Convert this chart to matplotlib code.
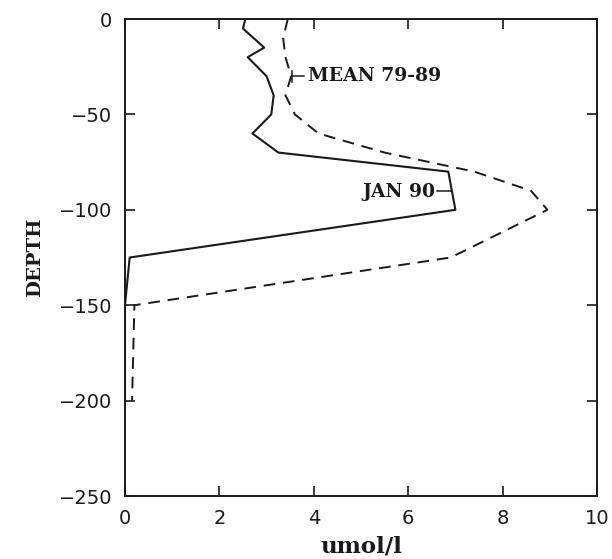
import matplotlib.pyplot as plt

# JAN 90 profile (solid)
jan_depth = [0, -5, -15, -20, -30, -40, -50, -60, -70, -80, -100, -125, -150, -200]
jan_conc = [2.55, 2.5, 2.95, 2.6, 3.0, 3.15, 3.1, 2.7, 3.25, 6.85, 7.0, 0.1, 0.0, 0.0]

# MEAN 79-89 profile (dashed)
mean_depth = [0, -10, -20, -30, -40, -50, -60, -70, -80, -90, -100, -125, -150, -200]
mean_conc = [3.45, 3.35, 3.4, 3.52, 3.4, 3.6, 4.1, 5.5, 7.4, 8.6, 8.95, 6.9, 0.2, 0.15]

xticks = [0, 2, 4, 6, 8, 10]
yticks = [0, -50, -100, -150, -200, -250]

fig = plt.figure(figsize=(6.12, 5.59), dpi=100)
ax = fig.add_axes([0.2042, 0.1127, 0.7713, 0.8533])

ax.plot(jan_conc, jan_depth, color="#1a1a1a", lw=1.5)
ax.plot(mean_conc, mean_depth, color="#1a1a1a", lw=1.4, ls=(0, (6, 4)))

ax.set_xlim(0, 10)
ax.set_ylim(-250, 0)
ax.set_xticks(xticks)
ax.set_yticks(yticks)
ax.set_yticklabels(["\u2212" + str(-t) if t < 0 else "0" for t in yticks])
ax.tick_params(direction="in", length=7, width=1.2, top=True, right=True,
               labelsize=14, pad=9, colors="#1a1a1a")
for s in ax.spines.values():
    s.set_linewidth(1.4)
    s.set_color("#1a1a1a")

serif = dict(family="DejaVu Serif", color="#1a1a1a")
ax.set_xlabel("umol/l", fontsize=16.5, labelpad=6, fontweight="semibold", **serif)
ax.set_ylabel("DEPTH", fontsize=14, labelpad=11, fontweight="bold", **serif)

# curve labels with short leader lines
ax.plot([3.53, 3.8], [-30, -30], color="#1a1a1a", lw=1.1)
ax.plot([3.53, 3.53], [-27, -33], color="#1a1a1a", lw=1.1)
ax.text(3.88, -30, "MEAN 79-89", fontsize=13.5, va="center", ha="left",
        fontweight="bold", **serif)

ax.plot([6.62, 6.93], [-90, -90], color="#1a1a1a", lw=1.1)
ax.text(6.57, -90.5, "JAN 90", fontsize=13.5, va="center", ha="right",
        fontweight="bold", **serif)

fig.savefig("out.png", dpi=100)
